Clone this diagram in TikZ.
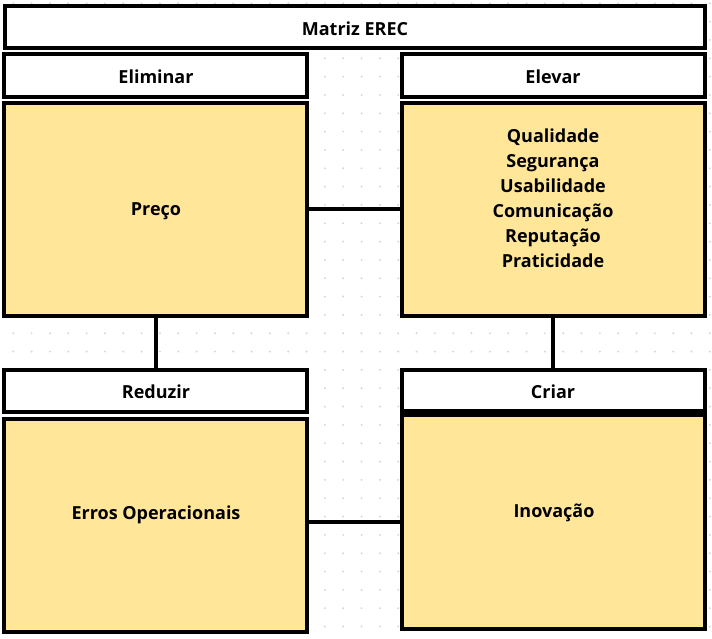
\documentclass[tikz,border=0pt]{standalone}
\usepackage{fontspec}
\setmainfont{Open Sans}
\usepackage{tikz}
\usetikzlibrary{positioning}
\definecolor{box_yellow}{RGB}{255,230,153}
\definecolor{grid_dot}{RGB}{211,214,222}
\tikzstyle{title_box} = [
    rectangle,
    draw=black,
    fill=white,
    line width=4pt,
    inner sep=0pt,
    minimum width=700.3pt,
    minimum height=42.2pt
]
\tikzstyle{head_box} = [
    rectangle,
    draw=black,
    fill=white,
    line width=4pt,
    inner sep=0pt,
    minimum width=302.8pt % same for both columns
]
\tikzstyle{item_box} = [
    rectangle,
    draw=black,
    fill=box_yellow,
    line width=4pt,
    inner sep=0pt,
    minimum width=302.8pt
]
\tikzstyle{label_text} = [
    font=\fontsize{18}{25}\selectfont\bfseries,
    text=black,
    align=center,
    inner sep=0pt
]
\tikzstyle{link} = [
    draw=black,
    line width=4pt
]

\begin{document}
\begin{tikzpicture}[x=1pt, y=-1pt]
\useasboundingbox (0,0) rectangle (712,638);
% dotted background
\foreach \i in {0,...,38}
    \foreach \j in {0,...,34}
        \fill[grid_dot] (13.3+18.33*\i, 3.3+18.33*\j) circle (1.1pt);

\node [title_box] (title) at (354.85, 27.3) {};

\node [head_box, minimum height=43.2pt] (elim_head) at (155.85, 75.4) {};
\node [head_box, minimum height=43.2pt] (elev_head) at (553.25, 75.4) {};
\node [item_box, minimum height=213pt] (elim_box) at (155.85, 209) {};
\node [item_box, minimum height=213pt] (elev_box) at (553.25, 209) {};

\node [head_box, minimum height=42.5pt] (reduz_head) at (155.85, 390.75) {};
\node [head_box, minimum height=41pt] (criar_head) at (553.25, 390) {};
\node [item_box, minimum height=212.7pt] (reduz_box) at (155.85, 525.35) {};
\node [item_box, minimum height=213.7pt] (criar_box) at (553.25, 521.85) {};

\draw [link] (elim_box.east) -- (elev_box.west);
\draw [link] (elim_box.south) -- (reduz_head.north);
\draw [link] (elev_box.south) -- (criar_head.north);
\draw [link] (reduz_box.east |- criar_box.west) -- (criar_box.west);

\node [label_text] (title_text) at (355, 28.5) {Matriz EREC};
\node [label_text] (elim_text) at (156, 76.5) {Eliminar};
\node [label_text] (elev_text) at (553, 76.5) {Elevar};
\node [label_text] (preco_text) at (156, 211.5) {Preço};
\node [label_text] (elev_list) at (553, 198) {Qualidade\\Segurança\\Usabilidade\\Comunicação\\Reputação\\Praticidade};
\node [label_text] (reduz_text) at (156, 391.5) {Reduzir};
\node [label_text] (criar_text) at (553, 391.5) {Criar};
\node [label_text] (erros_text) at (156, 514.5) {Erros Operacionais};
\node [label_text] (inov_text) at (554, 512.5) {Inovação};
\end{tikzpicture}
\end{document}
